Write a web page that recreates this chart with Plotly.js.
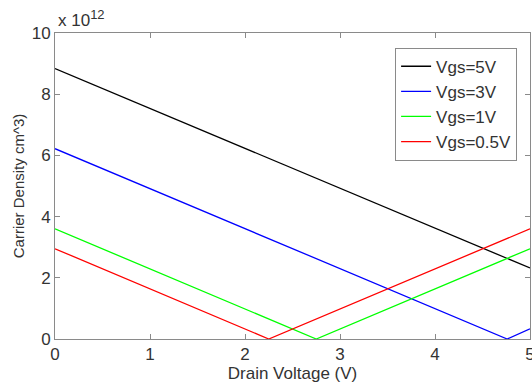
<!DOCTYPE html>
<html>
<head>
<meta charset="utf-8">
<script src="https://cdn.plot.ly/plotly-3.0.1.min.js"></script>
<style>html,body{margin:0;padding:0;background:#fff;}#chart{width:532px;height:390px;}</style>
</head>
<body>
<div id="chart"></div>
<script>
// Drain voltage (V) and carrier density (x 1e12 cm^-3)
const seriesNames = ["Vgs=5V", "Vgs=3V", "Vgs=1V", "Vgs=0.5V"];
const vgs5_x = [0, 5];
const vgs5_y = [8.84, 2.32];
const vgs3_x = [0, 4.76, 5];
const vgs3_y = [6.22, 0, 0.33];
const vgs1_x = [0, 2.75, 5];
const vgs1_y = [3.6, 0, 2.95];
const vgs05_x = [0, 2.25, 5];
const vgs05_y = [2.95, 0, 3.6];
const xTicks = [0, 1, 2, 3, 4, 5];
const yTicks = [0, 2, 4, 6, 8, 10];

const colors = ["#000000", "#0000ff", "#00ff00", "#ff0000"];
const xs = [vgs5_x, vgs3_x, vgs1_x, vgs05_x];
const ys = [vgs5_y, vgs3_y, vgs1_y, vgs05_y];
const FONT = "Liberation Sans, Arial, sans-serif";

const traces = seriesNames.map((n, i) => ({
  x: xs[i], y: ys[i], name: n, type: "scatter", mode: "lines",
  line: {color: colors[i], width: 1.3}
}));

const axisCommon = {
  showline: true, linecolor: "#8a8a8a", linewidth: 1,
  mirror: "ticks", ticks: "inside", ticklen: 5, tickcolor: "#8a8a8a",
  showgrid: false, zeroline: false, ticklabeloverflow: "allow",
  tickfont: {family: FONT, size: 17, color: "#333"}
};

const layout = {
  width: 532, height: 390,
  margin: {l: 55, r: 2, t: 33, b: 51},
  paper_bgcolor: "#fff", plot_bgcolor: "#fff",
  showlegend: true,
  legend: {
    x: 0.716, y: 0.952, xanchor: "left", yanchor: "top",
    bgcolor: "#fff", bordercolor: "#8a8a8a", borderwidth: 1,
    font: {family: FONT, size: 17, color: "#333"},
    tracegroupgap: 0, itemwidth: 30
  },
  xaxis: Object.assign({}, axisCommon, {
    range: [0, 5], tickvals: xTicks, ticktext: xTicks.map(String),
    title: {text: "Drain Voltage (V)", standoff: 2,
      font: {family: FONT, size: 17, color: "#333"}}
  }),
  yaxis: Object.assign({}, axisCommon, {
    range: [0, 10], tickvals: yTicks, ticktext: yTicks.map(String),
    title: {text: "Carrier Density cm^3)", standoff: 3,
      font: {family: FONT, size: 15, color: "#333"}}
  }),
  annotations: [{
    xref: "paper", yref: "paper", x: 0, y: 1, xanchor: "left", yanchor: "bottom",
    xshift: 1, yshift: 1,
    text: "x 10<sup><span style='font-size:13px'>12</span></sup>", showarrow: false,
    font: {family: FONT, size: 17, color: "#333"}
  }]
};

Plotly.newPlot("chart", traces, layout, {displayModeBar: false, staticPlot: true});
</script>
</body>
</html>
